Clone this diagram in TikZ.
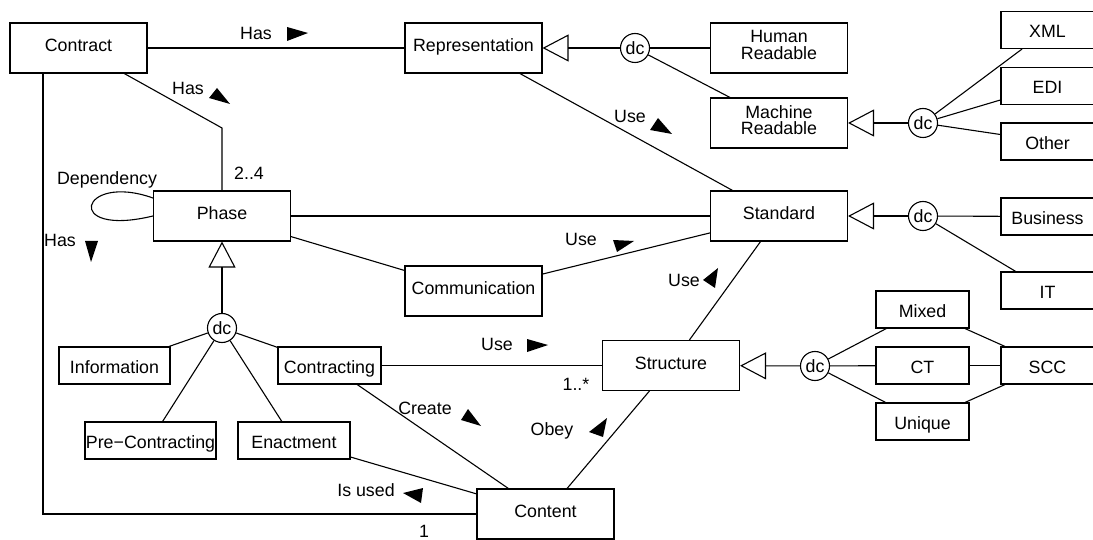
\documentclass[tikz,border=0pt]{standalone}
\usepackage{fontspec}
\setmainfont{Liberation Sans}
\usetikzlibrary{arrows.meta,calc}
\begin{document}
\begin{tikzpicture}[x=1pt,y=-1pt, line width=1.1pt,
  font=\fontsize{17.8}{16.6}\selectfont,
  big/.style={draw, rectangle, minimum width=137pt, minimum height=50pt, inner sep=0pt,
    text height=12.7pt, text depth=5.7pt},
  two/.style={draw, rectangle, minimum width=137pt, minimum height=50pt, inner sep=0pt,
    text depth=5.9pt, align=center},
  small/.style={draw, rectangle, minimum height=37pt, inner sep=0pt,
    text height=18pt, text depth=2.3pt},
  sq/.style={small, minimum width=93pt},
  dcnode/.style={draw, circle, minimum size=29pt, inner sep=0pt, fill=white},
  gen/.style={-{Triangle[open, length=26pt, width=27pt]}},
  lbl/.style={inner sep=0pt, text height=12.7pt, text depth=0pt},
]
\useasboundingbox (0,0) rectangle (1093,540);

% classes
\node[big] (contract) at (78.5,48) {Contract};
\node[big] (rep) at (473.5,48) {Representation};
\node[two] (human) at (779,48) {Human\\Readable};
\node[two] (machine) at (779,123) {Machine\\Readable};
\node[sq] (xml) at (1047.5,30) {XML};
\node[sq] (edi) at (1047.5,86) {EDI};
\node[sq] (other) at (1047.5,141.5) {Other};
\node[big] (phase) at (222,216) {Phase};
\node[big] (std) at (779,216) {Standard};
\node[sq] (business) at (1047.5,216.5) {Business};
\node[sq] (it) at (1047.5,290.5) {IT};
\node[big] (comm) at (473.5,291) {Communication};
\node[big] (struct) at (671,365.5) {Structure};
\node[sq] (mixed) at (922.5,309.5) {Mixed};
\node[sq] (ct) at (922.5,365.5) {CT};
\node[sq] (unique) at (922.5,421.5) {Unique};
\node[sq] (scc) at (1047.5,365.5) {SCC};
\node[small, minimum width=111pt] (info) at (114.5,365.5) {Information};
\node[small, minimum width=103pt] (contracting) at (329.5,365.5) {Contracting};
\node[small, minimum width=131pt] (precon) at (150.5,440.5) {Pre−Contracting};
\node[small, minimum width=112pt] (enact) at (294,440.5) {Enactment};
\node[big] (content) at (545.5,514) {Content};

% discriminator circles
\node[dcnode] (dcrep) at (635,48) {dc};
\node[dcnode] (dcmach) at (923,123) {dc};
\node[dcnode] (dcstd) at (923,216) {dc};
\node[dcnode] (dcstruct) at (815,366) {dc};
\node[dcnode] (dcphase) at (222,328) {dc};

% generalisations
\draw[gen] (dcrep) -- (rep);
\draw (dcrep) -- (human);
\draw (dcrep) -- (machine);
\draw[gen] (dcmach) -- (machine);
\draw (dcmach) -- (xml);
\draw (dcmach) -- (edi);
\draw (dcmach) -- (other);
\draw[gen] (dcstd) -- (std);
\draw (dcstd) -- (business);
\draw (dcstd) -- (it);
\draw[gen] (dcstruct) -- (struct);
\draw (dcstruct) -- (mixed);
\draw (dcstruct) -- (ct);
\draw (dcstruct) -- (unique);
\draw (mixed) -- (scc);
\draw (ct) -- (scc);
\draw (unique) -- (scc);
\draw[gen] (dcphase) -- (phase);
\draw (dcphase) -- (info);
\draw (dcphase) -- (precon);
\draw (dcphase) -- (enact);
\draw (dcphase) -- (contracting);

% associations
\draw (contract) -- (rep);
\draw (rep) -- (std);
\draw (phase) -- (std);
\draw (phase) -- (comm);
\draw (comm) -- (std);
\draw (struct) -- (std);
\draw (contracting) -- (struct);
\draw (contracting) -- (content);
\draw (struct) -- (content);
\draw (enact) -- (content);
\coordinate (bend) at (222,128);
\draw (contract) -- (bend) -- (phase);
\coordinate (corner) at (43,514);
\draw (contract.south -| corner) -- (corner) -- (content);
\draw ([yshift=18pt]phase.west) .. controls (80,172) and (62,238) .. (phase.west);

% labels
\node[lbl] (l1) at (256,33) {Has};
\fill (287,27) -- (308,33) -- (287,41) -- cycle;
\node[lbl] (l2) at (188,88) {Has};
\fill (209,98) -- (217,88) -- (230,104) -- cycle;
\node[lbl] (l3) at (249,173) {2..4};
\node[lbl] (l4) at (107,178) {Dependency};
\node[lbl] (l5) at (60,240.5) {Has};
\fill (85,241) -- (98,241) -- (91,262) -- cycle;
\node[lbl] (l6) at (630,116.5) {Use};
\fill (650,130) -- (658,118) -- (672,134) -- cycle;
\node[lbl] (l7) at (581,239.5) {Use};
\fill (613,240) -- (634,241) -- (617,252) -- cycle;
\node[lbl] (l8) at (684,280) {Use};
\fill (703,280) -- (718,268) -- (715,288) -- cycle;
\node[lbl] (l9) at (497,344.5) {Use};
\fill (527,339) -- (548,345) -- (527,352) -- cycle;
\node[lbl] (l10) at (576,384) {1..*};
\node[lbl] (l11) at (425,408.5) {Create};
\fill (461,420) -- (468,409) -- (481,426) -- cycle;
\node[lbl] (l12) at (552,429.5) {Obey};
\fill (589,432) -- (607,418) -- (603,437) -- cycle;
\node[lbl] (l13) at (366,490) {Is used};
\fill (403,493) -- (423,488) -- (421,503) -- cycle;
\node[lbl] (l14) at (424,531.5) {1};
\end{tikzpicture}
\end{document}
